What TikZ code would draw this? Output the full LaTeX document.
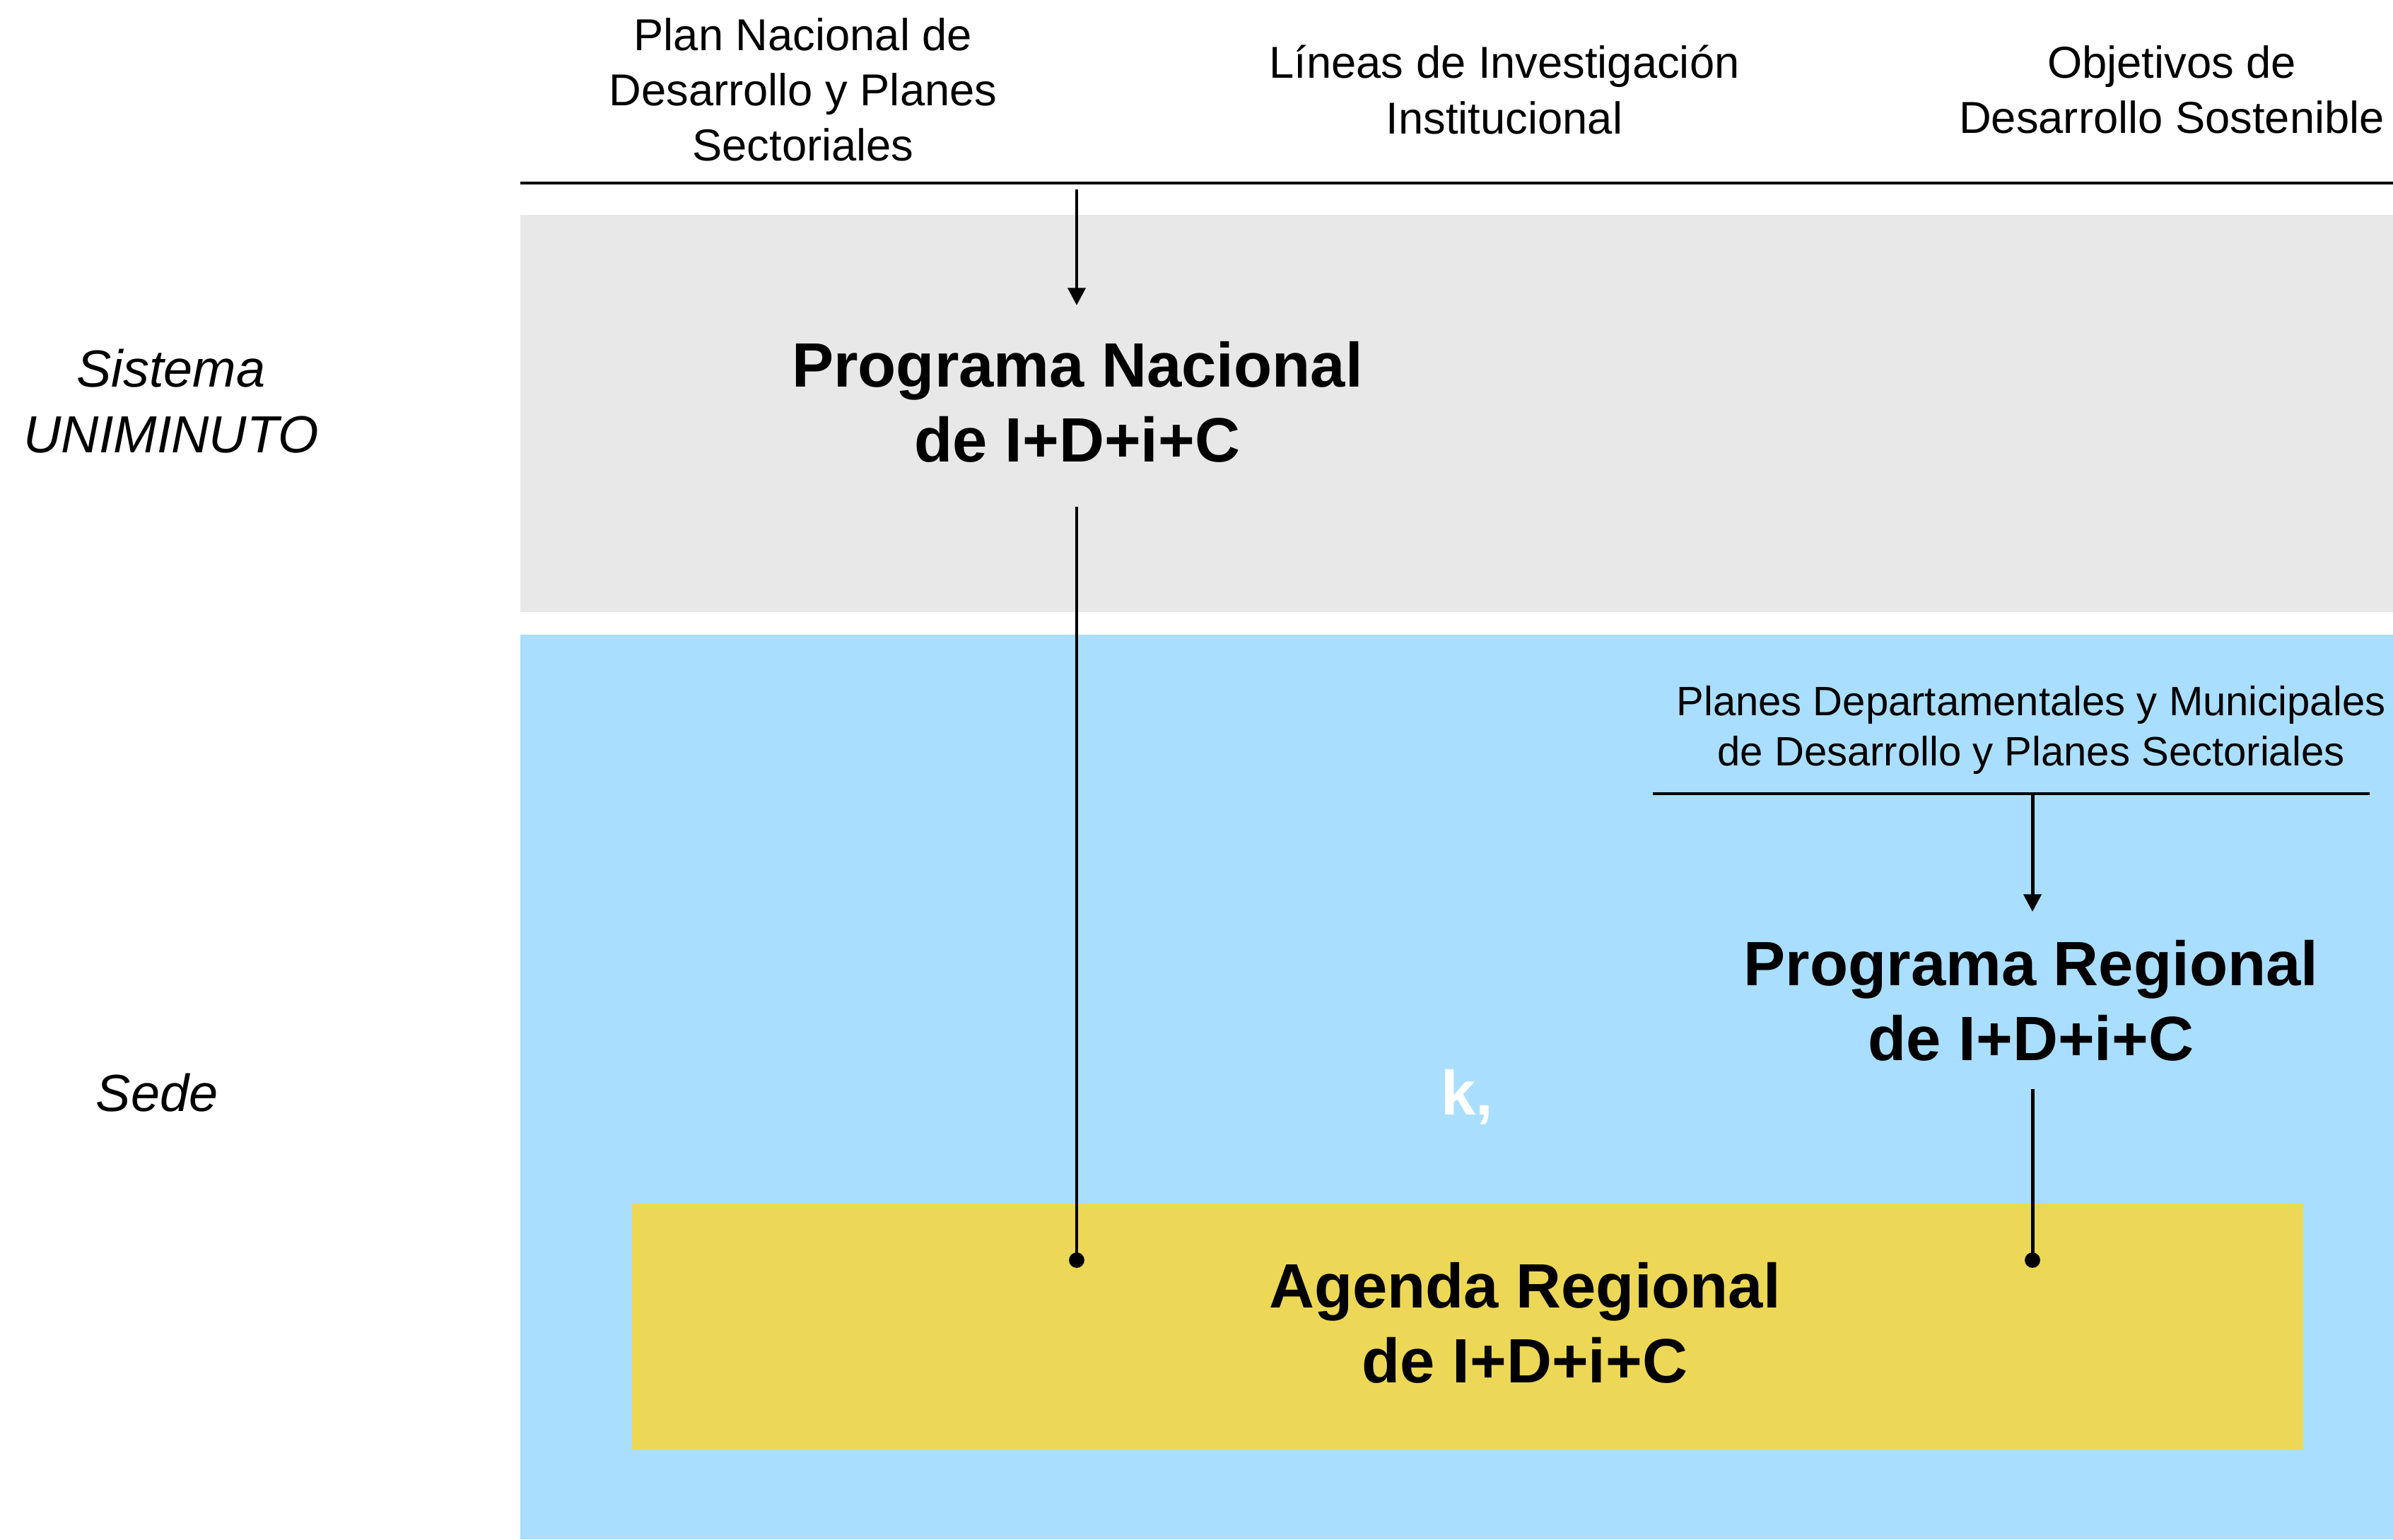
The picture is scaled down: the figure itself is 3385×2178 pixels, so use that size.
\documentclass[tikz,border=0pt]{standalone}
\usepackage{fontspec}
\setmainfont{Liberation Sans}
\usetikzlibrary{arrows.meta}
\definecolor{greyband}{RGB}{232,232,232}
\definecolor{blueband}{RGB}{169,222,254}
\definecolor{yellowbox}{RGB}{236,216,86}
\begin{document}
\begin{tikzpicture}[x=0.01cm,y=-0.01cm,
  toptext/.style={align=center,inner sep=0pt,font=\fontsize{18}{22.2}\selectfont},
  sidetext/.style={align=center,inner sep=0pt,font=\fontsize{21}{26.4}\selectfont\itshape},
  bigtext/.style={align=center,inner sep=0pt,font=\fontsize{25.2}{30.2}\selectfont\bfseries},
  midtext/.style={align=center,inner sep=0pt,font=\fontsize{16.5}{20.3}\selectfont},
  rule/.style={line width=1.4pt},
  conn/.style={line width=1.4pt},
  arr/.style={conn,-{Triangle[length=7pt,width=7pt]}},
  dotend/.style={fill=black}
]
\useasboundingbox (0,0) rectangle (3385,2178);
% bands
\fill[greyband] (736,304) rectangle (3385,866);
\fill[blueband] (736,898) rectangle (3385,2178);
\fill[yellowbox] (894,1703) rectangle (3258,2051);
% top texts
\node[toptext] (plan) at (1136,127) {Plan Nacional de\\Desarrollo y Planes\\Sectoriales};
\node[toptext] (lineas) at (2128,127) {Líneas de Investigación\\Institucional};
\node[toptext] (ods) at (3072,127) {Objetivos de\\Desarrollo Sostenible};
\draw[rule] (736,259) coordinate (topL) -- (3385,259) coordinate (topR);
% side labels
\node[sidetext] (sistema) at (242,568) {Sistema\\UNIMINUTO};
\node[sidetext] (sede) at (222,1546) {Sede};
% main nodes
\node[bigtext] (pn) at (1524,569) {Programa Nacional\\de I+D+i+C};
\node[midtext] (pd) at (2873,1033) {Planes Departamentales y Municipales\\de Desarrollo y Planes Sectoriales};
\draw[rule] (2338,1123) coordinate (pdL) -- (3352,1123) coordinate (pdR);
\node[bigtext] (pr) at (2873,1416) {Programa Regional\\de I+D+i+C};
\node[bigtext] (ag) at (2157,1872) {Agenda Regional\\de I+D+i+C};
\node[bigtext,text=white,anchor=base] (k) at (2075,1577) {k,};
% connectors
\coordinate (topArr) at (1523,268);
\coordinate (pnIn) at (1523,432);
\coordinate (pnOut) at (1523,717);
\coordinate (agDotA) at (1523,1783);
\coordinate (pdArr) at (2875,1123);
\coordinate (prIn) at (2875,1290);
\coordinate (prOut) at (2875,1541);
\coordinate (agDotB) at (2875,1783);
\draw[arr] (topArr) -- (pnIn);
\draw[conn] (pnOut) -- (agDotA);
\fill[dotend] (agDotA) circle (3.1pt);
\draw[arr] (pdArr) -- (prIn);
\draw[conn] (prOut) -- (agDotB);
\fill[dotend] (agDotB) circle (3.1pt);
\end{tikzpicture}
\end{document}
